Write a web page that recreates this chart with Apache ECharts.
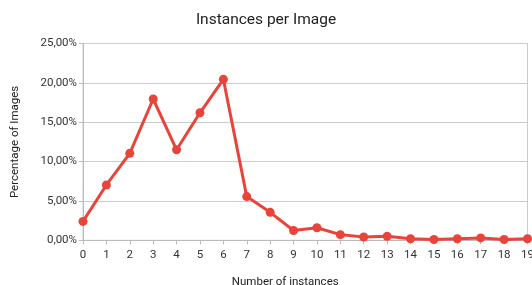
<!DOCTYPE html>
<html><head><meta charset="utf-8">
<script src="https://cdn.jsdelivr.net/npm/echarts@6/dist/echarts.min.js"></script>
<style>html,body{margin:0;padding:0;background:#fff}#c{width:532px;height:285px}</style>
</head><body><div id="c"></div>
<script>
const categories = ['0','1','2','3','4','5','6','7','8','9','10','11','12','13','14','15','16','17','18','19'];
const percentages = [2.4, 7.03, 11.05, 17.95, 11.5, 16.2, 20.45, 5.55, 3.55, 1.25, 1.6, 0.72, 0.42, 0.5, 0.2, 0.1, 0.2, 0.3, 0.1, 0.2];
const yTicks = [0, 5, 10, 15, 20, 25];

const chart = echarts.init(document.getElementById('c'), null, {renderer:'canvas'});
chart.setOption({
  animation: false,
  textStyle: {fontFamily: 'Roboto'},
  title: {text: 'Instances per Image', left: 'center', top: 7,
    textStyle: {fontFamily:'Roboto', fontSize: 15.5, fontWeight: 'normal', color: '#222'}},
  grid: {left: 83, right: 4.5, top: 43.5, bottom: 44.7, show: true, borderColor: '#ccc', borderWidth: 1,
    containLabel: false, outerBoundsMode: 'none'},
  xAxis: {
    type: 'category', data: categories, boundaryGap: false,
    name: 'Number of instances', nameLocation: 'middle', nameGap: 36,
    nameTextStyle: {fontSize: 11.5, color: '#222', padding:[0,40,0,0]},
    axisLine: {lineStyle: {color: '#bbb'}},
    axisTick: {show: true, length: 4, lineStyle: {color: '#bbb'}},
    axisLabel: {fontSize: 11.5, color: '#333', margin: 9, interval: 0},
    splitLine: {show: false}
  },
  yAxis: {
    type: 'value', min: yTicks[0], max: yTicks[yTicks.length-1], interval: 5,
    name: 'Percentage of Images', nameLocation: 'middle', nameGap: 62,
    nameTextStyle: {fontSize: 11.5, color: '#222'},
    axisLine: {show: true, lineStyle: {color: '#bbb'}},
    axisTick: {show: true, length: 4, lineStyle: {color: '#bbb'}},
    axisLabel: {fontSize: 11.5, color: '#333', margin: 6,
      formatter: v => v.toFixed(2).replace('.', ',') + '%'},
    splitLine: {lineStyle: {color: '#ccc'}}
  },
  series: [{
    type: 'line', data: percentages,
    symbol: 'circle', symbolSize: 9,
    lineStyle: {color: '#e9443a', width: 3},
    itemStyle: {color: '#e9443a'}
  }]
});
</script></body></html>
